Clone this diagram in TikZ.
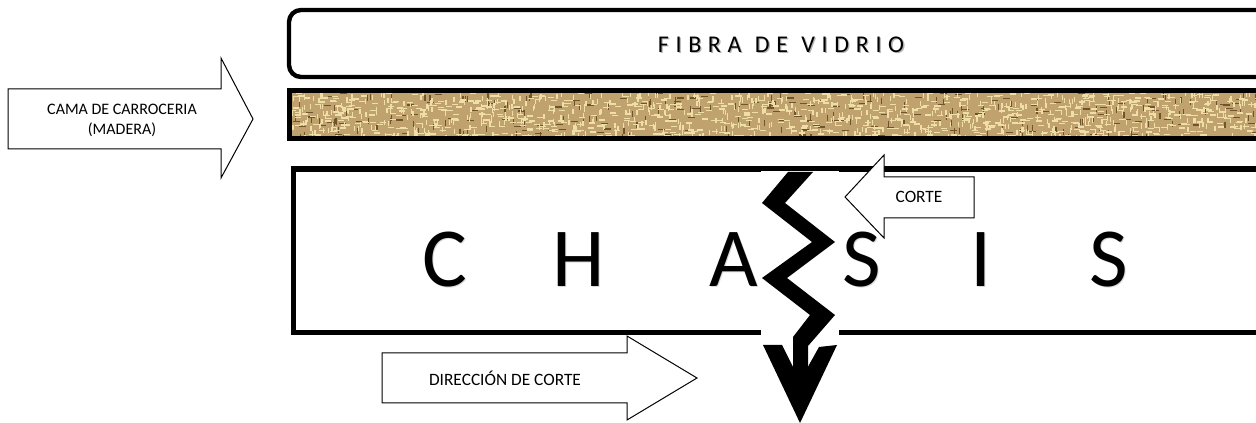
\documentclass[tikz,border=0pt]{standalone}
\usepackage{fontspec}
\setmainfont{Carlito}
\definecolor{burlap}{RGB}{192,162,110}
\definecolor{burlapdark}{RGB}{112,84,44}
\definecolor{burlaplight}{RGB}{240,222,168}
\newcommand{\lgap}{\hspace{5pt}}
\newcommand{\wgap}{\hspace{10pt}}
\begin{document}
\begin{tikzpicture}[x=0.75pt,y=-0.75pt,
  thinarrow/.style={draw=black, line width=0.75pt, fill=white, line join=miter},
  bigletter/.style={font=\fontsize{63}{66}\selectfont, inner sep=0pt, anchor=base},
  smalltext/.style={font=\fontsize{12}{15}\selectfont, align=center, inner sep=0pt},
  fibratext/.style={font=\fontsize{18}{21}\selectfont, inner sep=0pt},
  boxline/.style={line width=4pt, line join=miter}]
\useasboundingbox (0,0) rectangle (1256,423);
\clip (0,0) rectangle (1256,423);

% fibra de vidrio
\draw[line width=3.3pt, rounded corners=9pt] (1300,77) -- (289,77) -- (289,10) -- (1300,10);
\node[fibratext, text=black!30] at (782.3,46.3)
  {F\lgap I\lgap B\lgap R\lgap A\wgap D\lgap E\wgap V\lgap I\lgap D\lgap R\lgap I\lgap O};
\node[fibratext] (fibra) at (781,45)
  {F\lgap I\lgap B\lgap R\lgap A\wgap D\lgap E\wgap V\lgap I\lgap D\lgap R\lgap I\lgap O};

% madera (burlap band)
\begin{scope}
\clip (289,90.5) rectangle (1300,138.5);
\fill[burlap] (289,90.5) rectangle (1300,138.5);
\pgfmathsetseed{12}
\foreach \i in {1,...,330}{
  \pgfmathsetmacro{\xx}{289+970*rnd}
  \pgfmathsetmacro{\yy}{91+47*rnd}
  \pgfmathsetmacro{\dd}{rnd}
  \ifdim \dd pt<0.5pt
    \draw[burlapdark, line width=0.9pt] (\xx,\yy) -- ++(7,0);
  \else
    \draw[burlapdark, line width=0.9pt] (\xx,\yy) -- ++(0,6);
  \fi
}
\foreach \i in {1,...,1500}{
  \pgfmathsetmacro{\xx}{289+970*rnd}
  \pgfmathsetmacro{\yy}{91+47*rnd}
  \pgfmathsetmacro{\dd}{rnd}
  \ifdim \dd pt<0.5pt
    \draw[burlaplight, line width=1pt] (\xx,\yy) -- ++(6,0);
  \else
    \draw[burlaplight, line width=1pt] (\xx,\yy) -- ++(0,5);
  \fi
}
\end{scope}
\draw[line width=3.75pt] (1300,90.5) -- (289.5,90.5) -- (289.5,138.5) -- (1300,138.5);

% chasis box
\draw[boxline] (1300,169) -- (293.5,169) -- (293.5,332.5) -- (1300,332.5);
\foreach \n/\l/\x in {chC/C/445, chH/H/579, chA/A/734, chSa/S/862, chI/I/981, chSb/S/1109}{
  \node[bigletter, text=black!15] at (\x+1,288) {\l};
  \node[bigletter] (\n) at (\x,287) {\l};
}

% break (white background of the picture)
\fill[white] (761,171) rectangle (839,423);
\fill[black] (788,172) -- (813,172) -- (785,203) -- (835,242) -- (787,278) -- (835,315)
  -- (808,346) -- (808,385) -- (793,385) -- (793,337) -- (810,315) -- (762,278)
  -- (812,242) -- (762,203) -- cycle;
\fill[black] (763,345) -- (782,345) -- (800,381) -- (819,347) -- (837,345) -- (800,423) -- cycle;

% arrows
\draw[thinarrow] (8,89) -- (221,89) -- (221,58) -- (253,119) -- (221,178) -- (221,149) -- (8,149) -- cycle;
\node[smalltext] (cama) at (122,120) {CAMA DE CARROCERIA\\(MADERA)};

\draw[thinarrow] (974,177) -- (884,177) -- (884,155) -- (845,197) -- (884,238) -- (884,218) -- (974,218) -- cycle;
\node[font=\fontsize{13}{15}\selectfont, inner sep=0pt] (corte) at (919,197) {CORTE};

\draw[thinarrow] (382,353) -- (627,353) -- (627,336) -- (697,378) -- (627,420) -- (627,403) -- (382,403) -- cycle;
\node[font=\fontsize{13}{15}\selectfont, inner sep=0pt] (direccion) at (505,378) {DIRECCIÓN DE CORTE};
\end{tikzpicture}
\end{document}
